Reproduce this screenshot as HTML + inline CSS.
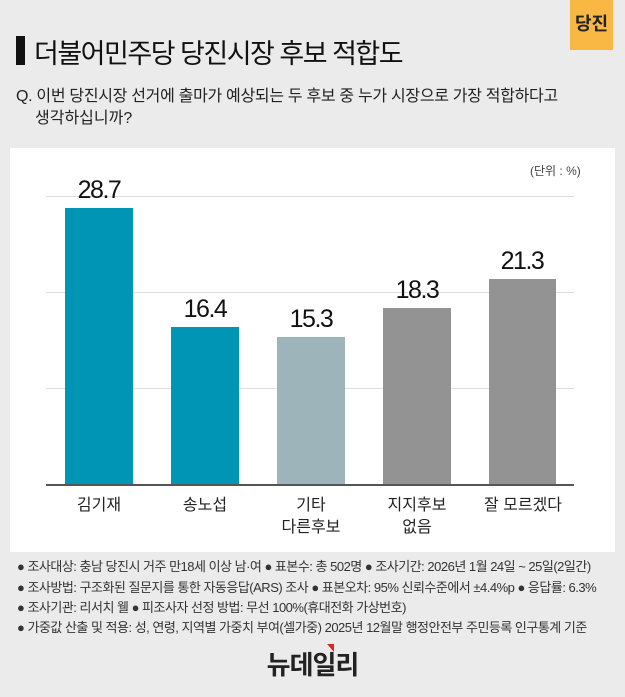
<!DOCTYPE html>
<html><head><meta charset="utf-8"><style>
body{margin:0;width:625px;height:697px;background:#ebebeb;font-family:"Liberation Sans","Noto Sans CJK KR",sans-serif;position:relative;overflow:hidden;color:#111}
.a{position:absolute;white-space:nowrap}
.bar{position:absolute}
.v{position:absolute;width:100px;text-align:center;font-size:25px;letter-spacing:-1.5px;color:#111}
.l{position:absolute;width:106px;text-align:center;font-size:16px;line-height:22px;color:#222}
.g{position:absolute;left:46px;width:528px;height:1px;background:#dedede}
.f{font-size:13px;color:#333;letter-spacing:-0.5px}
</style></head><body>
<div class="a" style="left:570px;top:0;width:43px;height:50px;background:#f8b843"></div>
<div class="a" style="left:570px;top:10px;width:43px;text-align:center;font-size:18px;font-weight:bold;color:#222">당진</div>
<div class="a" style="left:16px;top:36px;width:9px;height:29px;background:#111"></div>
<div class="a" style="left:34px;top:32px;font-size:27px;color:#111;letter-spacing:-1.5px">더불어민주당 당진시장 후보 적합도</div>
<div class="a" style="left:16px;top:82px;font-size:16px;color:#222;letter-spacing:-0.3px">Q. 이번 당진시장 선거에 출마가 예상되는 두 후보 중 누가 시장으로 가장 적합하다고</div>
<div class="a" style="left:35px;top:104px;font-size:16px;color:#222">생각하십니까?</div>
<div class="a" style="left:10px;top:148px;width:605px;height:404px;background:#fff"></div>
<div class="a" style="left:530px;top:162px;font-size:12px;color:#444">(단위 : %)</div>
<div class="g" style="top:196px"></div>
<div class="g" style="top:292px"></div>
<div class="g" style="top:388px"></div>
<div class="g" style="top:484px;height:1.5px;background:#555"></div>
<div class="bar" style="left:65px;top:208px;width:68px;height:276px;background:#0094b5"></div>
<div class="bar" style="left:171px;top:327px;width:68px;height:157px;background:#0094b5"></div>
<div class="bar" style="left:277px;top:337px;width:68px;height:147px;background:#9db4bb"></div>
<div class="bar" style="left:383px;top:308px;width:68px;height:176px;background:#939393"></div>
<div class="bar" style="left:489px;top:279px;width:67px;height:205px;background:#939393"></div>
<div class="v" style="left:49px;top:176px">28.7</div>
<div class="v" style="left:155px;top:295px">16.4</div>
<div class="v" style="left:261px;top:305px">15.3</div>
<div class="v" style="left:367px;top:276px">18.3</div>
<div class="v" style="left:472px;top:247px">21.3</div>
<div class="l" style="left:46px;top:495px">김기재</div>
<div class="l" style="left:152px;top:495px">송노섭</div>
<div class="l" style="left:258px;top:495px">기타<br>다른후보</div>
<div class="l" style="left:364px;top:495px">지지후보<br>없음</div>
<div class="l" style="left:470px;top:495px">잘 모르겠다</div>
<div class="a f" style="left:17px;top:556px">● 조사대상: 충남 당진시 거주 만18세 이상 남·여 ● 표본수: 총 502명 ● 조사기간: 2026년 1월 24일 ~ 25일(2일간)</div>
<div class="a f" style="left:17px;top:577px">● 조사방법: 구조화된 질문지를 통한 자동응답(ARS) 조사 ● 표본오차: 95% 신뢰수준에서 ±4.4%p ● 응답률: 6.3%</div>
<div class="a f" style="left:17px;top:597px">● 조사기관: 리서치 웰 ● 피조사자 선정 방법: 무선 100%(휴대전화 가상번호)</div>
<div class="a f" style="left:17px;top:617px">● 가중값 산출 및 적용: 성, 연령, 지역별 가중치 부여(셀가중) 2025년 12월말 행정안전부 주민등록 인구통계 기준</div>
<div class="a" style="left:220px;top:645px;width:185px;text-align:center;font-size:26px;font-weight:bold;color:#222;letter-spacing:-1px">뉴데일리</div>
<div class="a" style="left:327px;top:644px;width:0;height:0;border-left:7px solid transparent;border-top:8px solid #e0261b"></div>
</body></html>
